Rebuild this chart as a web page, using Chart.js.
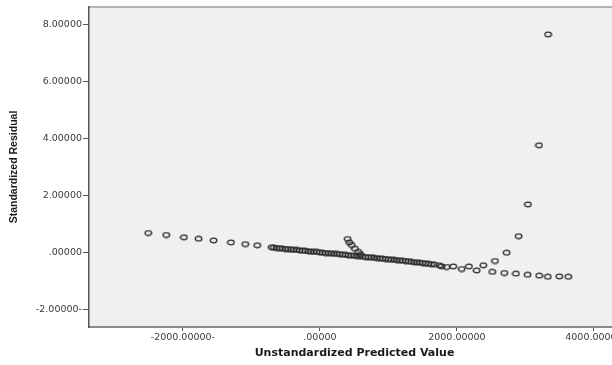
<!DOCTYPE html>
<html>
<head>
<meta charset="utf-8">
<script src="https://cdn.jsdelivr.net/npm/chart.js@4.4.1/dist/chart.umd.min.js"></script>
<style>
  html, body { margin: 0; padding: 0; background: #ffffff; overflow: hidden; }
  #wrap { width: 630px; height: 365px; }
</style>
</head>
<body>
<div id="wrap"><canvas id="residuals" width="630" height="365"></canvas></div>
<script>
// Axis ticks and their printed labels
const xTickValues = [-2000, 0, 2000, 4000];
const xTickLabels = ['-2000.00000-', '.00000', '2000.00000', '4000.00000'];
const yTickValues = [-2, 0, 2, 4, 6, 8];
const yTickLabels = ['-2.00000-', '.00000', '2.00000', '4.00000', '6.00000', '8.00000'];

// Low predicted values: sparse points on the left
const leftTailX = [-2506, -2243, -1985, -1771, -1552, -1299, -1090, -915, -705];
const leftTailY = [0.69, 0.62, 0.54, 0.49, 0.43, 0.36, 0.30, 0.26, 0.19];

// Dense band of cases in the middle
const denseBandX = [-672, -630, -588, -549, -505, -466, -421, -380, -338, -297, -255, -214, -170, -131,
  -88, -46, -5, 38, 79, 120, 163, 205, 246, 288, 331, 372, 413, 456, 498, 540, 581, 622, 666, 707,
  748, 790, 832, 874, 915, 957, 998, 1040, 1083, 1124, 1166, 1207, 1249, 1290, 1333, 1375, 1416,
  1458, 1500, 1541, 1583, 1625, 1668];
const denseBandY = [0.18, 0.16, 0.16, 0.14, 0.13, 0.13, 0.11, 0.10, 0.10, 0.08, 0.07, 0.07, 0.05, 0.04,
  0.03, 0.03, 0.01, 0.00, -0.01, -0.02, -0.02, -0.04, -0.04, -0.05, -0.07, -0.07, -0.09, -0.10, -0.10,
  -0.12, -0.12, -0.14, -0.15, -0.16, -0.16, -0.18, -0.19, -0.20, -0.21, -0.22, -0.23, -0.24, -0.25,
  -0.26, -0.27, -0.28, -0.29, -0.30, -0.32, -0.33, -0.34, -0.35, -0.36, -0.38, -0.39, -0.40, -0.41];

// Short rising branch above the band
const branchX = [405, 428, 463, 511, 559, 590];
const branchY = [0.48, 0.36, 0.27, 0.14, 0.03, -0.05];

// High predicted values: lower row and the upward sweep
const rightTailX = [1742, 1776, 1849, 1946, 2069, 2175, 2288, 2385, 2515, 2555, 2691, 2725, 2861, 2900,
  3030, 3036, 3200, 3197, 3326, 3330, 3493, 3625];
const rightTailY = [-0.44, -0.48, -0.50, -0.48, -0.57, -0.48, -0.62, -0.44, -0.67, -0.29, -0.71, 0.00,
  -0.73, 0.58, -0.77, 1.69, -0.80, 3.76, -0.84, 7.64, -0.83, -0.84];

function toPoints(xs, ys) {
  return xs.map((x, i) => ({ x: x, y: ys[i] }));
}

const cases = []
  .concat(toPoints(leftTailX, leftTailY))
  .concat(toPoints(denseBandX, denseBandY))
  .concat(toPoints(branchX, branchY))
  .concat(toPoints(rightTailX, rightTailY));

// Small open ellipse used as the marker
const marker = document.createElement('canvas');
marker.width = 9;
marker.height = 7;
(function () {
  const c = marker.getContext('2d');
  c.strokeStyle = '#2a2a2a';
  c.lineWidth = 1.3;
  c.beginPath();
  c.ellipse(4.5, 3.5, 3.3, 2.4, 0, 0, Math.PI * 2);
  c.stroke();
})();

const plotFrame = {
  id: 'plotFrame',
  beforeDraw(chart) {
    const a = chart.chartArea, ctx = chart.ctx;
    ctx.save();
    ctx.fillStyle = '#f0f0f0';
    ctx.fillRect(a.left, a.top, a.right - a.left, a.bottom - a.top);
    ctx.strokeStyle = '#9a9a9a';
    ctx.lineWidth = 1.5;
    ctx.beginPath();
    ctx.moveTo(a.left, a.top);
    ctx.lineTo(a.right, a.top);
    ctx.lineTo(a.right, a.bottom);
    ctx.stroke();
    ctx.restore();
  }
};

const tickFont = { family: 'DejaVu Sans, sans-serif', size: 9.5 };

new Chart(document.getElementById('residuals'), {
  type: 'scatter',
  data: {
    datasets: [{
      data: cases,
      pointStyle: marker,
      pointRadius: 3.5,
      pointHoverRadius: 3.5
    }]
  },
  plugins: [plotFrame],
  options: {
    responsive: false,
    animation: false,
    devicePixelRatio: 1,
    layout: { padding: { top: 7, right: 10, bottom: 0, left: 0 } },
    plugins: { legend: { display: false }, tooltip: { enabled: false } },
    scales: {
      x: {
        type: 'linear',
        min: -3370,
        max: 4380,
        afterBuildTicks(s) { s.ticks = xTickValues.map(v => ({ value: v })); },
        afterFit(s) { s.height = 38; },
        ticks: {
          autoSkip: false,
          maxRotation: 0,
          padding: 1,
          color: '#3a3a3a',
          font: tickFont,
          callback: v => xTickLabels[xTickValues.indexOf(v)]
        },
        grid: { drawOnChartArea: false, drawTicks: true, tickLength: 4, color: '#555555' },
        border: { display: true, color: '#8a8a8a', width: 2 },
        title: {
          display: true,
          text: 'Unstandardized Predicted Value',
          color: '#1a1a1a',
          font: { family: 'DejaVu Sans, sans-serif', size: 11, weight: 'bold' },
          padding: { top: 0, bottom: 5 }
        }
      },
      y: {
        type: 'linear',
        min: -2.6,
        max: 8.6,
        afterBuildTicks(s) { s.ticks = yTickValues.map(v => ({ value: v })); },
        afterFit(s) { s.width = 89; },
        ticks: {
          autoSkip: false,
          padding: 1,
          color: '#3a3a3a',
          font: tickFont,
          callback: v => yTickLabels[yTickValues.indexOf(v)]
        },
        grid: { drawOnChartArea: false, drawTicks: true, tickLength: 6, color: '#555555' },
        border: { display: true, color: '#555555', width: 1.5 },
        title: {
          display: true,
          text: 'Standardized Residual',
          color: '#1a1a1a',
          font: { family: 'Liberation Sans, Arial, sans-serif', size: 10.5, weight: 'bold' },
          padding: { top: 8, bottom: 0 }
        }
      }
    }
  }
});
</script>
</body>
</html>
